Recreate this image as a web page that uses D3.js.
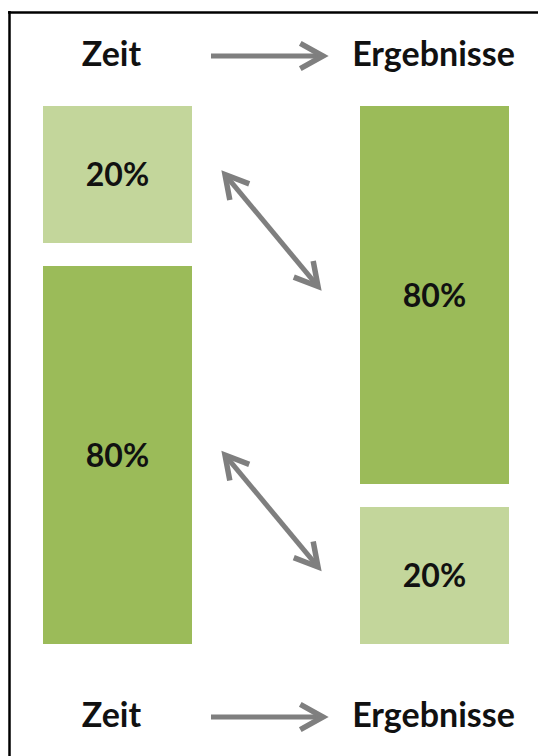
<!DOCTYPE html>
<html>
<head>
<meta charset="utf-8">
<script src="https://cdn.jsdelivr.net/npm/d3@7"></script>
<style>
  html, body { margin: 0; padding: 0; background: #ffffff; }
  svg { display: block; }
</style>
</head>
<body>
<svg id="chart" width="538" height="756"></svg>
<script>
// ---- data ----
const columns = ["Zeit", "Ergebnisse"];
const zeitShares = [20, 80];        // top to bottom
const ergebnisShares = [80, 20];    // top to bottom
const links = [[0, 0], [1, 1]];     // zeit block index -> ergebnis block index

// ---- layout ----
const W = 538, H = 756;
const svg = d3.select("#chart");
const green = "#9bbb59", lightGreen = "#c3d69b", gray = "#7f7f7f";
const font = "Lato, 'Open Sans', sans-serif";

// frame
svg.append("line").attr("x1", 8).attr("x2", W).attr("y1", 12.5).attr("y2", 12.5)
  .attr("stroke", "#000").attr("stroke-width", 2.5);
svg.append("line").attr("x1", 9.5).attr("x2", 9.5).attr("y1", 11).attr("y2", H)
  .attr("stroke", "#000").attr("stroke-width", 2.5);

const x = d3.scaleBand().domain(columns).range([43, 509]).paddingInner(0.53).paddingOuter(0);
const h = d3.scaleLinear().domain([20, 80]).range([137, 378]);
const top0 = 106, gap = 23;
const colorOf = v => v >= 50 ? green : lightGreen;

function stack(values) {
  let y = top0;
  return values.map(v => { const o = { v, y, h: h(v) }; y += h(v) + gap; return o; });
}
const series = [stack(zeitShares), stack(ergebnisShares)];

series.forEach((blocks, ci) => {
  const g = svg.append("g");
  g.selectAll("rect").data(blocks).join("rect")
    .attr("x", x(columns[ci])).attr("width", x.bandwidth())
    .attr("y", d => d.y).attr("height", d => d.h)
    .attr("fill", d => colorOf(d.v));
  g.selectAll("text").data(blocks).join("text")
    .attr("x", x(columns[ci]) + x.bandwidth() / 2)
    .attr("y", d => d.y + d.h / 2)
    .attr("dy", "0.36em")
    .attr("text-anchor", "middle")
    .attr("font-family", font).attr("font-weight", 700).attr("font-size", 32)
    .attr("fill", "#111")
    .text(d => d.v + "%");
});

// headers (top & bottom)
const headerY = [66, 727];
const headerDx = [-6, -1];
headerY.forEach(by => {
  columns.forEach((c, i) => {
    svg.append("text")
      .attr("x", x(c) + x.bandwidth() / 2 + headerDx[i])
      .attr("y", by)
      .attr("text-anchor", "middle")
      .attr("font-family", font).attr("font-weight", 700).attr("font-size", 34)
      .attr("fill", "#111")
      .text(c);
  });
});

// arrow helpers
function chevron(tipX, tipY, dirX, dirY, len, ang) {
  const a = Math.atan2(dirY, dirX);
  const p1 = [tipX - len * Math.cos(a - ang), tipY - len * Math.sin(a - ang)];
  const p2 = [tipX - len * Math.cos(a + ang), tipY - len * Math.sin(a + ang)];
  return `M${p1[0]},${p1[1]}L${tipX},${tipY}L${p2[0]},${p2[1]}`;
}
function arrow(x1, y1, x2, y2, both) {
  const dx = x2 - x1, dy = y2 - y1;
  const L = Math.hypot(dx, dy), ux = dx / L, uy = dy / L;
  const inset = 3;
  svg.append("path")
    .attr("d", `M${x1 + (both ? ux * inset : 0)},${y1 + (both ? uy * inset : 0)}L${x2 - ux * inset},${y2 - uy * inset}`)
    .attr("stroke", gray).attr("stroke-width", 5).attr("fill", "none");
  svg.append("path").attr("d", chevron(x2, y2, dx, dy, 26, Math.PI / 6.2))
    .attr("stroke", gray).attr("stroke-width", 5.5).attr("fill", "none")
    .attr("stroke-linejoin", "miter").attr("stroke-miterlimit", 10);
  if (both) {
    svg.append("path").attr("d", chevron(x1, y1, -dx, -dy, 26, Math.PI / 6.2))
      .attr("stroke", gray).attr("stroke-width", 5.5).attr("fill", "none")
      .attr("stroke-linejoin", "miter").attr("stroke-miterlimit", 10);
  }
}

// horizontal arrows next to headers
const ax1 = x(columns[0]) + x.bandwidth() + 19, ax2 = x(columns[1]) - 37;
headerY.forEach(by => arrow(ax1, by - 10, ax2, by - 10, false));

// diagonal links
links.forEach(([zi, ei]) => {
  const b = series[0][zi];
  const sx = x(columns[0]) + x.bandwidth() + 33, sy = b.y + b.h / 2;
  arrow(sx, sy, x(columns[1]) - 42, sy + 112, true);
});
</script>
</body>
</html>
